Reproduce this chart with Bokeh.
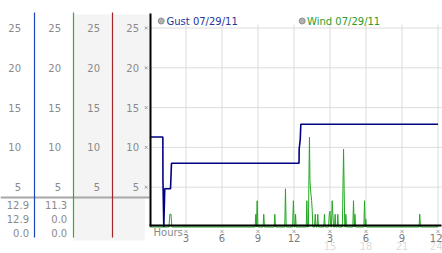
from bokeh.plotting import figure
from bokeh.models import Range1d, LinearAxis, FixedTicker
from bokeh.core.properties import value
from bokeh.embed import file_html
from bokeh.resources import INLINE

# ---------------- data ----------------
hour_ticks = [3, 6, 9, 12, 15, 18, 21, 24]
hour_labels = ["3", "6", "9", "12", "3", "6", "9", "12"]
hour_ticks_pm = [15, 18, 21, 24]
hour_labels_pm = ["15", "18", "21", "24"]
mph_ticks = [5, 10, 15, 20, 25]

series_names = ["Gust 07/29/11", "Wind 07/29/11"]
legend_colors = ["#25369c", "#2a9d2a"]
gust_color = "#000080"
wind_color = "#22a822"

gust_stats = [12.9, 12.9, 0.0]
wind_stats = [11.3, 0.0, 0.0]

gust_hours = [0.0, 1.07, 1.08, 1.15, 1.23, 1.71, 1.79, 12.42, 12.43, 12.52, 12.57, 24.0]
gust_mph = [11.3, 11.3, 5.8, 0.0, 4.8, 4.8, 8.0, 8.0, 9.8, 11.0, 12.9, 12.9]

wind_hours = [0.0, 1.58, 1.65, 1.75, 1.82,
              8.76, 8.82, 8.87, 8.93, 8.99,
              9.42, 9.48, 9.54,
              10.34, 10.40, 10.46,
              11.23, 11.29, 11.35,
              11.88, 11.95, 12.02, 12.08, 12.13, 12.18,
              13.02, 13.07, 13.12, 13.20, 13.24, 13.29, 13.33, 13.40, 13.47, 13.52, 13.57,
              13.71, 13.77, 13.83,
              13.92, 13.98, 14.04,
              14.48, 14.54, 14.60,
              14.88, 14.94, 15.00, 15.06, 15.12, 15.18, 15.24, 15.30,
              15.38, 15.43, 15.48,
              15.60, 15.65, 15.70,
              16.03, 16.08, 16.13, 16.18, 16.23, 16.27, 16.32, 16.38,
              16.90, 16.96, 17.02, 17.08, 17.14,
              17.82, 17.88, 17.94, 17.98, 18.04,
              22.42, 22.48, 22.54,
              24.0]
wind_mph = [0.0, 0.0, 1.6, 1.6, 0.0,
            0.0, 1.6, 0.0, 3.3, 0.0,
            0.0, 1.6, 0.0,
            0.0, 1.6, 0.0,
            0.0, 4.8, 0.0,
            0.0, 3.3, 0.0, 0.0, 1.6, 0.0,
            0.0, 3.3, 0.0, 0.0, 5.8, 11.3, 5.8, 4.3, 3.3, 2.0, 0.0,
            0.0, 1.6, 0.0,
            0.0, 1.6, 0.0,
            0.0, 1.6, 0.0,
            0.0, 1.6, 2.0, 0.0, 0.0, 3.3, 1.6, 0.0,
            0.0, 1.6, 0.0,
            0.0, 1.6, 0.0,
            0.0, 4.8, 9.8, 4.8, 0.0, 0.0, 1.6, 0.0,
            0.0, 3.3, 0.0, 1.6, 0.0,
            0.0, 3.3, 0.0, 1.0, 0.0,
            0.0, 1.6, 0.0,
            0.0]

# ---------------- layout helpers (pixel -> data) ----------------
W, H = 442, 253
X0, PXH = 149.5, 12.0      # pixel of hour 0, pixels per hour
Y0, PXV = 226.5, 7.96      # pixel of 0 mph, pixels per mph


def hx(px):
    return (px - X0) / PXH


def vy(py):
    return (Y0 - py) / PXV


FONT = "DejaVu Sans"
LABEL_GRAY = "#8a8a8a"

p = figure(width=W, height=H,
           x_range=Range1d(hx(0), hx(W)), y_range=Range1d(vy(H), vy(0)),
           output_backend="svg", toolbar_location=None,
           x_axis_location=None, y_axis_location=None,
           min_border=0, min_border_left=0, min_border_right=0,
           min_border_top=0, min_border_bottom=0,
           outline_line_color=None,
           background_fill_color="white", border_fill_color="white")
p.grid.visible = False

# gray background of the two right-hand scale columns
p.quad(left=[hx(72.8), hx(72.8)], right=[hx(149.5), hx(144.3)],
       bottom=[vy(197), vy(240)], top=[vy(14), vy(197)],
       fill_color="#f4f4f4", line_color=None)

# divider between scales and readouts
p.segment(x0=hx(0), x1=hx(149), y0=vy(197), y1=vy(197),
          line_color="#a8a8a8", line_width=2)

# grid lines
n_y = len(mph_ticks)
n_x = len(hour_ticks)
p.segment(x0=[0] * n_y, x1=[hx(441)] * n_y, y0=mph_ticks, y1=mph_ticks,
          line_color="#dcdcdc", line_width=1)
p.segment(x0=hour_ticks, x1=hour_ticks, y0=[0] * n_x, y1=[vy(24)] * n_x,
          line_color="#dcdcdc", line_width=1)

# data lines
p.line(wind_hours, wind_mph, line_color=wind_color, line_width=1)
p.line(gust_hours, gust_mph, line_color=gust_color, line_width=1.6)

# tiny tick glyphs
p.scatter(x=hour_ticks, y=[vy(231)] * n_x, marker="x", size=4,
          line_color="#a0a0a0", line_width=1)
p.scatter(x=[hx(145.7)] * n_y, y=mph_ticks, marker="x", size=4,
          line_color="#a0a0a0", line_width=1)


# y scales (four columns)
def add_yaxis(px, color, width, standoff, top_px, bottom_px):
    ax = LinearAxis(fixed_location=hx(px),
                    ticker=FixedTicker(ticks=mph_ticks),
                    bounds=(vy(bottom_px), vy(top_px)),
                    axis_line_color=color, axis_line_width=width,
                    major_tick_in=0, major_tick_out=0,
                    major_tick_line_color=None, minor_tick_line_color=None,
                    minor_tick_out=0, minor_tick_in=0,
                    major_label_standoff=standoff,
                    major_label_text_color=LABEL_GRAY,
                    major_label_text_font=FONT,
                    major_label_text_font_size="10px")
    p.add_layout(ax, "left")


add_yaxis(33.5, "#2046b0", 1.2, 13, 12, 236.5)
add_yaxis(72.5, "#2fae2f", 1.2, 12, 12, 236.5)
add_yaxis(111.5, "#a82424", 1.2, 12, 12, 236.5)
add_yaxis(X0, "black", 2, 11, 13, 225.5)

# x axis (hours) - first row
xa = LinearAxis(fixed_location=vy(225.3),
                ticker=FixedTicker(ticks=hour_ticks),
                major_label_overrides=dict(zip(hour_ticks, hour_labels)),
                bounds=(hx(148.5), hx(441)),
                axis_line_color="black", axis_line_width=2,
                major_tick_in=0, major_tick_out=0,
                major_tick_line_color=None, minor_tick_line_color=None,
                minor_tick_out=0, minor_tick_in=0,
                major_label_standoff=8,
                major_label_text_color="#7a7a7a",
                major_label_text_font=FONT,
                major_label_text_font_size="10px")
p.add_layout(xa, "below")

# x axis - second row (24h clock)
xb = LinearAxis(fixed_location=vy(225.3),
                ticker=FixedTicker(ticks=hour_ticks_pm),
                major_label_overrides=dict(zip(hour_ticks_pm, hour_labels_pm)),
                axis_line_color=None,
                major_tick_in=0, major_tick_out=0,
                major_tick_line_color=None, minor_tick_line_color=None,
                minor_tick_out=0, minor_tick_in=0,
                major_label_standoff=16,
                major_label_text_color="#dcdcdc",
                major_label_text_font=FONT,
                major_label_text_font_size="10px")
p.add_layout(xb, "below")

p.text(x=[hx(153)], y=[vy(231.5)], text=["Hours"],
       text_align="left", text_baseline="middle",
       text_font=value(FONT), text_font_size="10px", text_color=LABEL_GRAY)

# legend
p.scatter(x=[hx(160.7), hx(301.7)], y=[vy(20.5)] * 2, marker="circle", size=6,
          fill_color="#b0b0b0", line_color="#909090", line_width=1)
p.text(x=[hx(166), hx(306.5)], y=[vy(20.5)] * 2, text=series_names,
       text_align="left", text_baseline="middle",
       text_font=value(FONT), text_font_size="10px", text_color=legend_colors)

# readouts under the scales
row_px = [204.3, 218.3, 232]
p.text(x=[hx(28.5)] * 3, y=[vy(r) for r in row_px],
       text=[f"{v:.1f}" for v in gust_stats],
       text_align="right", text_baseline="middle",
       text_font=value(FONT), text_font_size="10px", text_color=LABEL_GRAY)
p.text(x=[hx(66.7)] * 3, y=[vy(r) for r in row_px],
       text=[f"{v:.1f}" for v in wind_stats],
       text_align="right", text_baseline="middle",
       text_font=value(FONT), text_font_size="10px", text_color=LABEL_GRAY)

open("out.html", "w").write(file_html(p, INLINE))
